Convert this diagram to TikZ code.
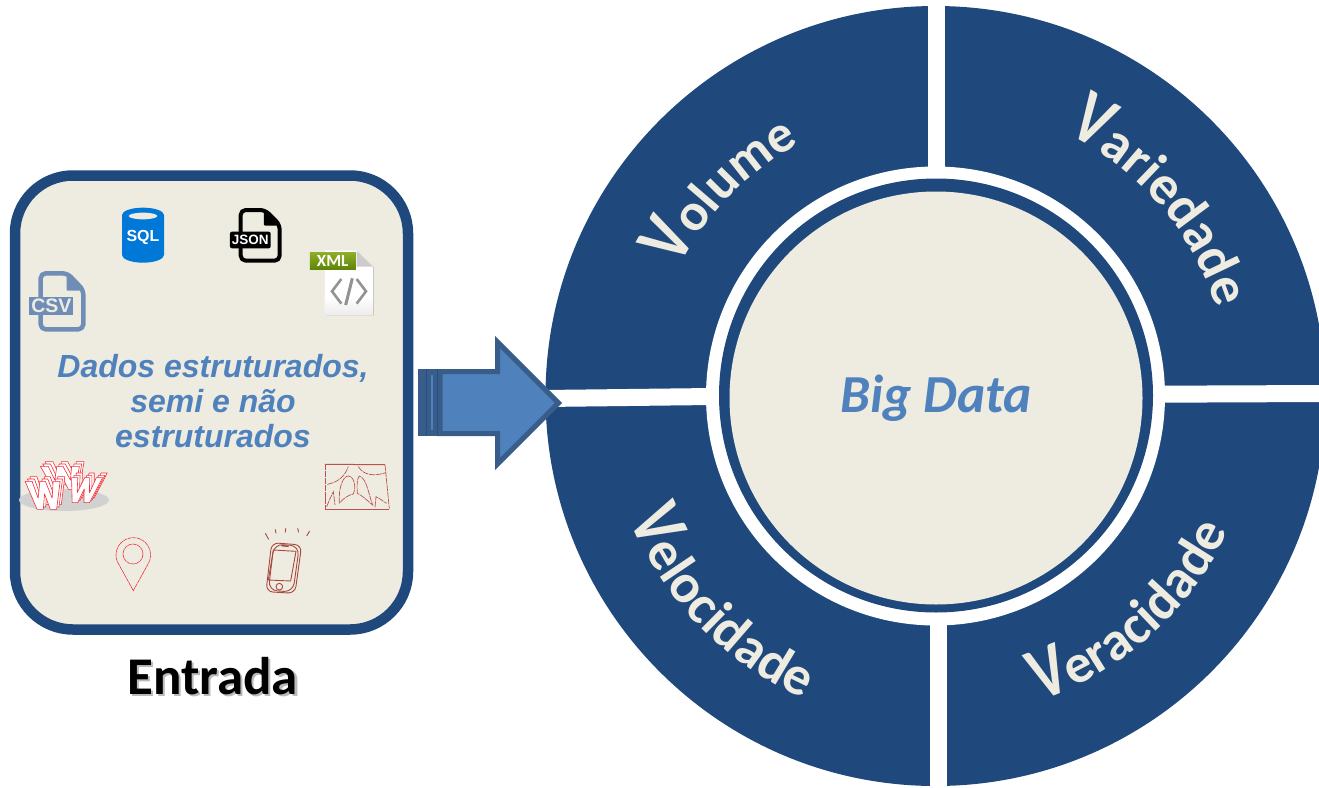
\documentclass[tikz,border=0pt]{standalone}
\usepackage{fontspec}
\setmainfont{Liberation Sans}
\newfontfamily\carl{Carlito}
\newfontfamily\carlV{Carlito}[FakeStretch=0.8]
\usetikzlibrary{decorations.text}
\definecolor{navy}{HTML}{1F497D}
\definecolor{cream}{HTML}{EEECE1}
\definecolor{lblue}{HTML}{4F81BD}
\definecolor{dblue}{HTML}{385D8A}
\definecolor{sqlblue}{HTML}{0078D7}
\definecolor{csvblue}{HTML}{6F8DB7}
\definecolor{xmltop}{HTML}{8FAE28}
\definecolor{xmlbot}{HTML}{5F8408}
\definecolor{wred}{HTML}{F0303A}
\definecolor{xred}{HTML}{C0504D}
\definecolor{pbrown}{HTML}{A8483E}
\newcommand{\capV}{\carlV\bfseries\fontsize{76}{76}\selectfont}
\newcommand{\restV}{\carl\bfseries\fontsize{53}{53}\selectfont}
\newcommand{\restW}{\carl\bfseries\fontsize{55}{55}\selectfont}
\newcommand{\fpx}[1]{\fontsize{#1}{#1}\selectfont}
\tikzset{
  x=1pt,y=-1pt,
  gap/.style={draw=white,line width=17pt},
  arcword/.style={decorate,decoration={text along path,text color=cream,text align=center,text={#1}}},
  wface/.style={fill=white,draw=wred,line width=.6pt,line join=round},
  xline/.style={draw=xred,line width=.7pt,dash pattern=on 6pt off .8pt},
  pinline/.style={draw=wred,line width=.6pt,dash pattern=on 4pt off .6pt},
  phoneline/.style={draw=pbrown,line width=.9pt,line join=round},
  zoomA/.style={shift={(10,170)},x=.33333pt,y=-.33333pt},
  zoomB/.style={shift={(10,450)},x=.33333pt,y=-.33333pt},
}
\newcommand{\wglyph}[5]{%
  \foreach \dx/\dy in {14/-14,7/-7,0/0}{
  \path[wface,shift={(#1+\dx,#2+\dy)},x=#3pt,y=#4pt,xslant=#5]
   (0,1)--(.2,1)--(.3,.4)--(.42,1)--(.58,1)--(.7,.4)--(.8,1)--(1,1)--(.78,0)--(.6,0)--(.5,.55)--(.4,0)--(.22,0)--cycle;}
}
\begin{document}
\begin{tikzpicture}
\useasboundingbox (0,0) rectangle (1319,787);
\clip (0,0) rectangle (1319,787);
\path[fill=white] (0,0) rectangle (1319,787);

% wheel
\node[circle,fill=navy,minimum size=780pt,inner sep=0pt] (outer) at (935.5,396) {};
\node[circle,fill=white,minimum size=459pt,inner sep=0pt] (ringwhite) at (935.5,396) {};
\coordinate (tA) at (936.5,0); \coordinate (tB) at (936.5,172);
\coordinate (bA) at (938,620); \coordinate (bB) at (938,790);
\coordinate (lA) at (535,398.6); \coordinate (lB) at (712,396.5);
\coordinate (rA) at (1158,394.2); \coordinate (rB) at (1325,393.5);
\draw[gap] (tA)--(tB); \draw[gap] (bA)--(bB); \draw[gap] (lA)--(lB); \draw[gap] (rA)--(rB);
\node[circle,fill=navy,minimum size=434pt,inner sep=0pt] (ringdark) at (936,395.5) {};
\node[circle,fill=cream,minimum size=413pt,inner sep=0pt,text=lblue,font=\carl\bfseries\itshape\fpx{53.5}] (core) at (936,398) {Big Data};

% curved words
\begin{scope}[shift={(936,396)},x=1pt,y=1pt]
\path[arcword={|\capV|V|\restV|olume}] (166:287) arc[start angle=166,end angle=106,radius=287];
\path[arcword={|\capV|V|\restW|ariedade}] (76:294) arc[start angle=76,end angle=5,radius=294];
\path[arcword={|\capV|V|\restW|elocidade}] (189:330) arc[start angle=189,end angle=259,radius=330];
\path[arcword={|\capV|V|\restW|eracidade}] (-87:322) arc[start angle=-87,end angle=-9,radius=322];
\end{scope}

% input panel
\node[draw=navy,fill=cream,line width=10.5pt,rounded corners=58pt,minimum width=393pt,minimum height=454pt,inner sep=0pt] (panel) at (211.5,402.5) {};
\node[text=lblue,align=center,font=\bfseries\itshape\fontsize{32}{35}\selectfont,inner sep=0pt] (caption) at (213,401)
  {Dados estruturados,\\semi e não\\estruturados};
\node[text=black!60,opacity=.45,font=\carl\bfseries\fpx{53},inner sep=0pt] (entradashadow) at (215,678) {Entrada};
\node[text=black,font=\carl\bfseries\fpx{53},inner sep=0pt] (entrada) at (212.5,676) {Entrada};

% arrow
\path[fill=dblue] (418,369) rectangle (442,436);
\draw[draw=dblue,fill=lblue,line width=5pt,miter limit=10,line join=miter]
  (440,371.5)--(497.5,371.5)--(497.5,342)--(558.5,403)--(497.5,464)--(497.5,433.5)--(440,433.5)--cycle;
\path[fill=lblue] (431,375) rectangle (433,430);
\path[draw=navy!70!dblue,line width=.5pt] (426,369)--(426,436) (437,369)--(437,436);

% upper icons
\begin{scope}[zoomA]
% SQL
\path[fill=sqlblue] (336,135) arc[start angle=180,end angle=360,x radius=63,y radius=22]
  --(462,255) arc[start angle=0,end angle=180,x radius=63,y radius=23]--cycle;
\path[fill=cream] (399,138) ellipse[x radius=43,y radius=10];
\node[text=white,font=\bfseries\fpx{16}] (sql) at (399,203) {SQL};
% JSON
\draw[black,line width=4pt,line join=round,rounded corners=5pt,fill=cream] (692,120)--(765,120)--(809,164)--(809,272)--(692,272)--cycle;
\path[fill=black,rounded corners=1pt] (762,116)--(813,167)--(762,167)--cycle;
\path[fill=black,rounded corners=2pt] (660,185) rectangle (782,235);
\node[text=white,font=\bfseries\fpx{13.5}] (json) at (721,209) {JSON};
% CSV
\draw[csvblue,line width=4.5pt,line join=round,rounded corners=5pt] (92,310)--(172,310)--(220,360)--(220,478)--(92,478)--cycle;
\path[fill=csvblue,rounded corners=1pt] (170,305)--(225,362)--(170,362)--cycle;
\path[fill=csvblue] (57,380) rectangle (190,435);
\node[text=cream,font=\bfseries\fpx{19.5}] (csv) at (124,408) {CSV};
% XML
\path[fill=black,opacity=.15] (948,245)--(1042,245)--(1092,292)--(1092,436)--(948,436)--cycle;
\path[fill=white] (945,242)--(1040,242)--(1089,290)--(1089,432)--(945,432)--cycle;
\path[bottom color=white!93!black,top color=white] (945,380) rectangle (1089,432);
\path[fill=white!80!black] (1040,242)--(1089,290)--(1040,290)--cycle;
\path[top color=xmltop,bottom color=xmlbot] (900,247) rectangle (1038,298);
\node[text=white,font=\carl\bfseries\fpx{17}] (xml) at (968,272) {XML};
\draw[gray!85,line width=2.6pt] (994,327)--(966,364)--(994,401);
\draw[gray!85,line width=2.6pt] (1040,327)--(1068,364)--(1040,401);
\draw[gray!85,line width=3pt] (1027,325)--(1007,405);
\end{scope}

% lower icons
\begin{scope}[zoomB]
\path[fill=black!18] (162,150) ellipse[x radius=135,y radius=33];
\wglyph{105}{118}{39}{23}{-.2}
\wglyph{166}{158}{31}{25}{.25}
\wglyph{58}{178}{35}{28}{-.15}
% pin
\draw[pinline] (327.4,344.8) arc[start angle=145,end angle=395,radius=52]--(370,422)--cycle;
\draw[pinline] (369,312) circle[radius=30];
% phone
\draw[phoneline,rounded corners=7pt] (785,278)--(875,285)--(855,430)--(768,425)--cycle;
\draw[phoneline,rounded corners=9pt] (792,282)--(868,288)--(849,426)--(775,421)--cycle;
\draw[phoneline] (790,300)--(858,304)--(842,393)--(775,390)--cycle;
\draw[phoneline] (808,410) circle[radius=10];
\draw[phoneline,line width=1.4pt] (814,287)--(836,289);
\draw[phoneline] (766,250)--(776,268) (796,238)--(798,250) (827,235)--(826,247) (863,235)--(866,247) (899,243)--(890,258);
% x-ray
\draw[xred,line width=1pt] (945,43)--(1125,44);
\draw[xline] (1125,44)--(1138,176);
\draw[xred,line width=1pt] (945,178)--(1138,178);
\draw[xline] (945,43)--(945,178);
\draw[xline] (952,103) .. controls (990,95) and (1005,75) .. (1015,50);
\draw[xline] (1045,50) .. controls (1060,75) and (1090,80) .. (1128,68);
\draw[xline] (988,160) .. controls (985,110) and (1000,78) .. (1015,78) .. controls (1035,80) and (1038,115) .. (1030,132) .. controls (1015,135) and (1000,145) .. (988,160);
\draw[xline] (1042,130) .. controls (1040,100) and (1042,85) .. (1048,78) .. controls (1070,85) and (1075,130) .. (1088,165) .. controls (1070,150) and (1055,135) .. (1042,130);
\draw[xline] (950,170) .. controls (958,150) and (965,135) .. (970,125) -- (975,165);
\draw[xline] (1095,172) -- (1098,140) .. controls (1110,145) and (1120,155) .. (1130,160);
\end{scope}
\end{tikzpicture}
\end{document}
